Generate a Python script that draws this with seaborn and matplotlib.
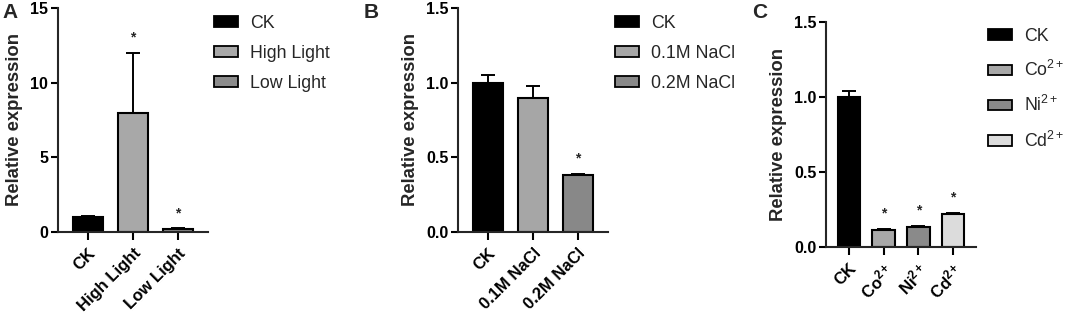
import numpy as np
import pandas as pd
import matplotlib
matplotlib.use("Agg")
import matplotlib.pyplot as plt
from matplotlib.patches import Patch
import seaborn as sns

sns.set_style("ticks")
plt.rcParams['font.family'] = ['Liberation Sans', 'DejaVu Sans']
plt.rcParams['mathtext.fontset'] = 'custom'
plt.rcParams['mathtext.rm'] = 'Liberation Sans'
plt.rcParams['mathtext.it'] = 'Liberation Sans:italic'
plt.rcParams['mathtext.bf'] = 'Liberation Sans:bold'

# ---- data ----
A_cats = ["CK", "High Light", "Low Light"]
A_vals = [1.0, 8.0, 0.18]
A_err = [0.05, 4.0, 0.06]
A_sig = [False, True, True]
A_colors = ["#000000", "#a8a8a8", "#8c8c8c"]
A_ticks = [0, 5, 10, 15]
A_ticklabels = ["0", "5", "10", "15"]

B_cats = ["CK", "0.1M NaCl", "0.2M NaCl"]
B_vals = [1.0, 0.9, 0.38]
B_err = [0.05, 0.075, 0.01]
B_sig = [False, False, True]
B_colors = ["#000000", "#a6a6a6", "#888888"]
B_ticks = [0.0, 0.5, 1.0, 1.5]
B_ticklabels = ["0.0", "0.5", "1.0", "1.5"]

C_cats = ["CK", "Co2+", "Ni2+", "Cd2+"]
C_vals = [1.0, 0.115, 0.135, 0.22]
C_err = [0.04, 0.008, 0.003, 0.01]
C_sig = [False, True, True, True]
C_colors = ["#000000", "#a8a8a8", "#8a8a8a", "#dcdcdc"]
C_ticks = [0.0, 0.5, 1.0, 1.5]
C_ticklabels = ["0.0", "0.5", "1.0", "1.5"]
C_xlabels = ["CK", r"Co$^{\mathbf{2+}}$", r"Ni$^{\mathbf{2+}}$", r"Cd$^{\mathbf{2+}}$"]
C_leglabels = ["CK", r"Co$^{2+}$", r"Ni$^{2+}$", r"Cd$^{2+}$"]

fig = plt.figure(figsize=(10.65, 3.18), dpi=100)
W, H = 1065, 318


def panel(rect, cats, vals, errs, sig, colors, ticks, ticklabels, xlabels,
          leglabels, letter, letter_xy, leg_xy, leg_spacing):
    l, t, r, b = rect
    ax = fig.add_axes([l / W, 1 - b / H, (r - l) / W, (b - t) / H])
    df = pd.DataFrame({"cat": cats, "val": vals})
    pal = dict(zip(cats, colors))
    sns.barplot(data=df, x="cat", y="val", hue="cat", palette=pal,
                order=cats, hue_order=cats, width=0.65, legend=False,
                edgecolor="black", linewidth=1.5, saturation=1, ax=ax)
    pos = np.arange(len(cats))
    ax.errorbar(pos, vals, yerr=[np.zeros(len(vals)), errs], fmt="none",
                ecolor="black", elinewidth=1.4, capsize=5, capthick=1.4,
                zorder=1)
    for i, (v, e, s) in enumerate(zip(vals, errs, sig)):
        if s:
            ax.annotate("*", xy=(i, v + e), xytext=(0, 6),
                        textcoords="offset points", ha="center",
                        va="bottom", fontsize=10, fontweight="bold")
    ax.set_xlim(-0.67, len(cats) - 1 + 0.67)
    ax.set_ylim(ticks[0], ticks[-1])
    ax.set_yticks(ticks)
    ax.set_yticklabels(ticklabels, fontsize=11.5, fontweight="bold")
    ax.set_xticks(pos)
    ax.set_xticklabels(xlabels, rotation=45, ha="right",
                       rotation_mode="anchor", fontsize=12,
                       fontweight="bold")
    ax.set_xlabel("")
    ax.set_ylabel("Relative expression", fontsize=13.3, fontweight="bold",
                  labelpad=5)
    for sp in ["top", "right"]:
        ax.spines[sp].set_visible(False)
    for sp in ["left", "bottom"]:
        ax.spines[sp].set_linewidth(1.5)
    ax.tick_params(axis="y", width=1.5, length=5, direction="out",
                   pad=2, colors="black")
    ax.tick_params(axis="x", width=1.5, length=6, direction="out",
                   pad=4, colors="black")
    fig.text(letter_xy[0] / W, 1 - letter_xy[1] / H, letter, fontsize=15,
             fontweight="bold", ha="left", va="top")
    handles = [Patch(facecolor=c, edgecolor="black", linewidth=1.3)
               for c in colors]
    fig.legend(handles, leglabels, loc="upper left",
               bbox_to_anchor=(leg_xy[0] / W, 1 - leg_xy[1] / H),
               frameon=False, fontsize=12.8, handlelength=1.35,
               handleheight=0.55, handletextpad=0.7, labelspacing=leg_spacing,
               borderpad=0, borderaxespad=0)
    return ax


panel((58, 8, 208, 232), A_cats, A_vals, A_err, A_sig, A_colors, A_ticks,
      A_ticklabels, A_cats, A_cats, "A", (2, 3), (214, 15), 0.72)
panel((458, 8, 608, 232), B_cats, B_vals, B_err, B_sig, B_colors, B_ticks,
      B_ticklabels, B_cats, B_cats, "B", (364, 3), (615, 15), 0.72)
panel((826, 22, 976, 247), C_cats, C_vals, C_err, C_sig, C_colors, C_ticks,
      C_ticklabels, C_xlabels, C_leglabels, "C", (752, 3), (988, 28), 0.85)

fig.savefig("out.png", dpi=100)
